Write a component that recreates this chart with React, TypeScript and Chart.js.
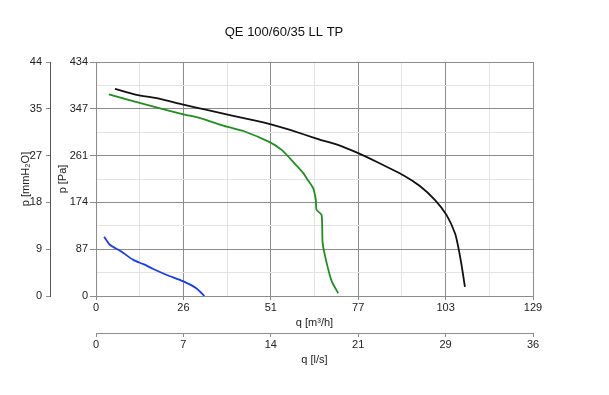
import React, { useEffect, useRef } from 'react';
import { Chart, registerables } from 'chart.js';

Chart.register(...registerables);

const TITLE = 'QE 100/60/35 LL TP';
const X_MAX = 129;
const Y_MAX = 434;

const m3hTickLabels = ['0', '26', '51', '77', '103', '129'];
const lsTickLabels = ['0', '7', '14', '21', '29', '36'];
const paTickLabels = ['0', '87', '174', '261', '347', '434'];
const mmTickLabels = ['0', '9', '18', '27', '35', '44'];

// black curve: q [m³/h], p [Pa]
const blackQ = [5.6, 12.0, 17.9, 25.8, 32.7, 40.5, 47.4, 51.9, 57.3, 65.1, 72.0, 77.4, 82.8, 90.7, 95.6, 100.1, 103.5, 106.0, 106.9, 108.0, 108.9];
const blackP = [384, 373, 367, 355, 345, 334, 325, 318, 308, 292, 279, 265, 249, 224, 204, 178, 150, 116, 92, 54, 17];

// green curve
const greenQ = [3.8, 15.9, 25.8, 30.7, 38.6, 43.5, 51.4, 54.8, 57.3, 61.2, 62.2, 64.1, 64.9, 65.1, 66.6, 66.9, 68.1, 69.6, 71.5];
const greenP = [374, 353, 337, 330, 314, 306, 285, 271, 255, 228, 218, 200, 178, 160, 150, 98, 61, 27, 5];

// blue curve
const blueQ = [2.4, 4.1, 7.1, 11.0, 14.0, 16.9, 20.9, 25.8, 29.7, 32.0];
const blueP = [110, 95, 84, 67, 59, 50, 39, 27, 14, 0];

const FONT_FAMILY = '"Liberation Sans", Arial, sans-serif';
const TEXT = '#222222';
const MAJOR = '#8c8c8c';
const MINOR = '#e3e3e3';

const toPoints = (xs: number[], ys: number[]) => xs.map((x, i) => ({ x, y: ys[i] }));

const evenTicks = (max: number, n: number) => (scale: any) => {
  scale.ticks = Array.from({ length: n + 1 }, (_, i) => ({ value: (i * max) / n }));
};

const titlePlugin = {
  id: 'customTitle',
  afterDraw(chart: any) {
    const ctx = chart.ctx;
    ctx.save();
    ctx.font = `13px ${FONT_FAMILY}`;
    ctx.fillStyle = '#111111';
    ctx.textAlign = 'center';
    ctx.textBaseline = 'middle';
    ctx.fillText(TITLE, 284, 32);
    ctx.restore();
  },
};

export default function App() {
  const ref = useRef<HTMLCanvasElement>(null);

  useEffect(() => {
    if (!ref.current) return;
    const font = { family: FONT_FAMILY, size: 11 };
    const line = { showLine: true, pointRadius: 0, borderWidth: 1.8, tension: 0.2, xAxisID: 'x', yAxisID: 'y' };
    const chart = new Chart(ref.current, {
      type: 'scatter',
      data: {
        datasets: [
          { ...line, data: toPoints(blackQ, blackP), borderColor: '#111111' },
          { ...line, data: toPoints(greenQ, greenP), borderColor: '#1f8f1f' },
          { ...line, data: toPoints(blueQ, blueP), borderColor: '#1a3cf0' },
        ],
      },
      options: {
        responsive: false,
        animation: false,
        events: [],
        layout: { padding: { left: 0, right: 76, top: 62, bottom: 22 } },
        plugins: { legend: { display: false }, tooltip: { enabled: false }, title: { display: false } },
        scales: {
          x: {
            type: 'linear', position: 'bottom', min: 0, max: X_MAX, weight: 0,
            afterBuildTicks: evenTicks(X_MAX, 10),
            afterFit: (s: any) => { s.height = 37; },
            ticks: { autoSkip: false, maxRotation: 0, padding: 1, color: TEXT, font,
              callback: (_v: any, i: number) => (i % 2 === 0 ? m3hTickLabels[i / 2] : '') },
            grid: { color: (c: any) => (c.index % 2 === 0 ? MAJOR : MINOR), tickColor: (c: any) => (c.index % 2 === 0 ? MAJOR : 'rgba(0,0,0,0)'), tickLength: 4, lineWidth: 1 },
            border: { display: true, color: MAJOR },
            title: { display: true, text: 'q [m³/h]', color: TEXT, font, padding: { top: 0, bottom: 3 } },
          },
          xl: {
            type: 'linear', position: 'bottom', min: 0, max: X_MAX, weight: 1,
            afterBuildTicks: evenTicks(X_MAX, 5),
            afterFit: (s: any) => { s.height = 40; },
            ticks: { autoSkip: false, maxRotation: 0, padding: 1, color: TEXT, font,
              callback: (_v: any, i: number) => lsTickLabels[i] },
            grid: { drawOnChartArea: false, color: MAJOR, tickColor: MAJOR, tickLength: 4 },
            border: { display: true, color: MAJOR },
            title: { display: true, text: 'q [l/s]', color: TEXT, font, padding: { top: 0, bottom: 6 } },
          },
          y: {
            type: 'linear', position: 'left', min: 0, max: Y_MAX, weight: 0,
            afterBuildTicks: evenTicks(Y_MAX, 10),
            afterFit: (s: any) => { s.width = 46; },
            ticks: { autoSkip: false, padding: 2, color: TEXT, font,
              callback: (_v: any, i: number) => (i % 2 === 0 ? paTickLabels[i / 2] : '') },
            grid: { color: (c: any) => (c.index % 2 === 0 ? MAJOR : MINOR), tickColor: (c: any) => (c.index % 2 === 0 ? MAJOR : 'rgba(0,0,0,0)'), tickLength: 6, lineWidth: 1 },
            border: { display: true, color: MAJOR },
            title: { display: true, text: 'p [Pa]', color: TEXT, font, padding: { top: 6, bottom: 0 } },
          },
          ym: {
            type: 'linear', position: 'left', min: 0, max: Y_MAX, weight: 1,
            afterBuildTicks: evenTicks(Y_MAX, 5),
            afterFit: (s: any) => { s.width = 50; },
            ticks: { autoSkip: false, padding: 4, color: TEXT, font,
              callback: (_v: any, i: number) => mmTickLabels[i] },
            grid: { drawOnChartArea: false, color: MAJOR, tickColor: MAJOR, tickLength: 4 },
            border: { display: true, color: '#555555' },
            title: { display: true, text: 'p [mmH₂O]', color: TEXT, font, padding: { top: 19, bottom: 0 } },
          },
        },
      } as any,
      plugins: [titlePlugin],
    });
    return () => chart.destroy();
  }, []);

  return (
    <div style={{ position: 'absolute', left: 0, top: 0, width: 609, height: 395, background: '#ffffff' }}>
      <canvas ref={ref} width={609} height={395} />
    </div>
  );
}
